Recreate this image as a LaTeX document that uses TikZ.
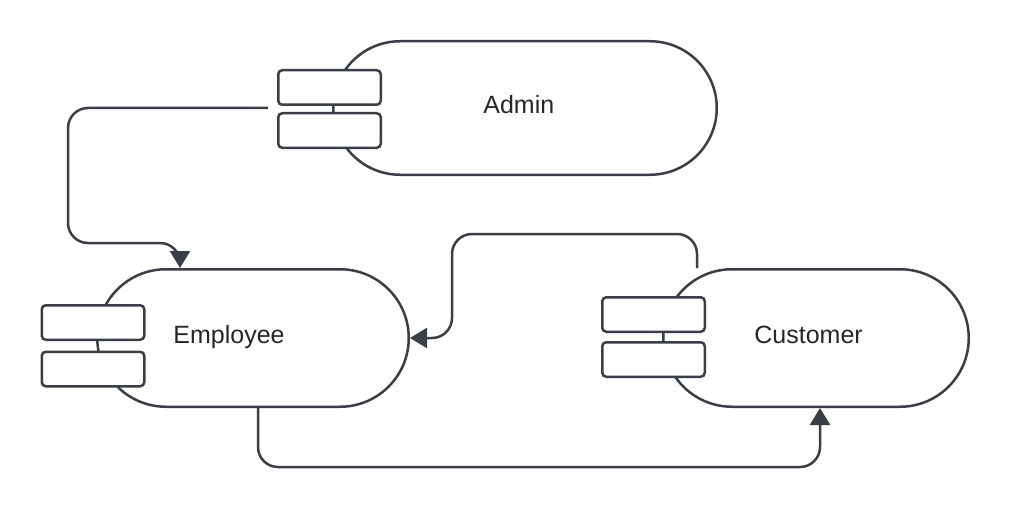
\documentclass[tikz,border=0pt]{standalone}
\usepackage{fontspec}
\setmainfont{Liberation Sans}
\usetikzlibrary{shapes.misc,arrows.meta}
\definecolor{linegray}{HTML}{3A3F47}
\begin{document}
\begin{tikzpicture}
      [x=0.5pt,y=-0.5pt,
      comp/.style={rounded rectangle,draw=linegray,line width=1.25pt,inner sep=0pt},
      port/.style={rectangle,rounded corners=2pt,draw=linegray,fill=white,line width=1.25pt,
        minimum width=51.25pt,minimum height=17.25pt,inner sep=0pt},
      comptext/.style={anchor=base west,inner sep=0pt,font=\fontsize{12.5}{15}\selectfont,text=black!85},
      conn/.style={draw=linegray,line width=1.25pt,rounded corners=10pt,
        -{Triangle[length=8.5pt,width=10pt]}}]
      \fill[white] (0,0) rectangle (1011,508);
      \useasboundingbox (0,0) rectangle (1011,508);
      \node[comp,minimum width=191.75pt,minimum height=66.75pt] (admin) at (525,108) {};
      \node[comp,minimum width=155.75pt,minimum height=68.75pt] (employee) at (253,338) {};
      \node[comp,minimum width=152.75pt,minimum height=68.75pt] (customer) at (816,338) {};
      \node[port] (admin p1) at (329.5,87.5) {};
      \node[port] (admin p2) at (329.5,130.5) {};
      \node[port] (employee p1) at (93,322.5) {};
      \node[port] (employee p2) at (93,369) {};
      \node[port] (customer p1) at (653.5,314.5) {};
      \node[port] (customer p2) at (653.5,359.5) {};
      \node[comptext] (admin text) at (483,113) {Admin};
      \node[comptext] (employee text) at (173,343) {Employee};
      \node[comptext] (customer text) at (754,343) {Customer};
      \coordinate (admin out) at (268,108);
      \draw[conn] (admin out) -- (68,108) -- (68,243) -- (180,243)
        -- ([xshift=-36.5pt]employee.north);
      \draw[conn] ([xshift=-59.5pt]customer.north) -- (697,234) -- (452,234)
        -- (452,338) -- (employee.east);
      \draw[conn] ([xshift=2.5pt]employee.south) -- (258,467) -- (820,467)
        -- ([xshift=2pt]customer.south);
\end{tikzpicture}
\end{document}
